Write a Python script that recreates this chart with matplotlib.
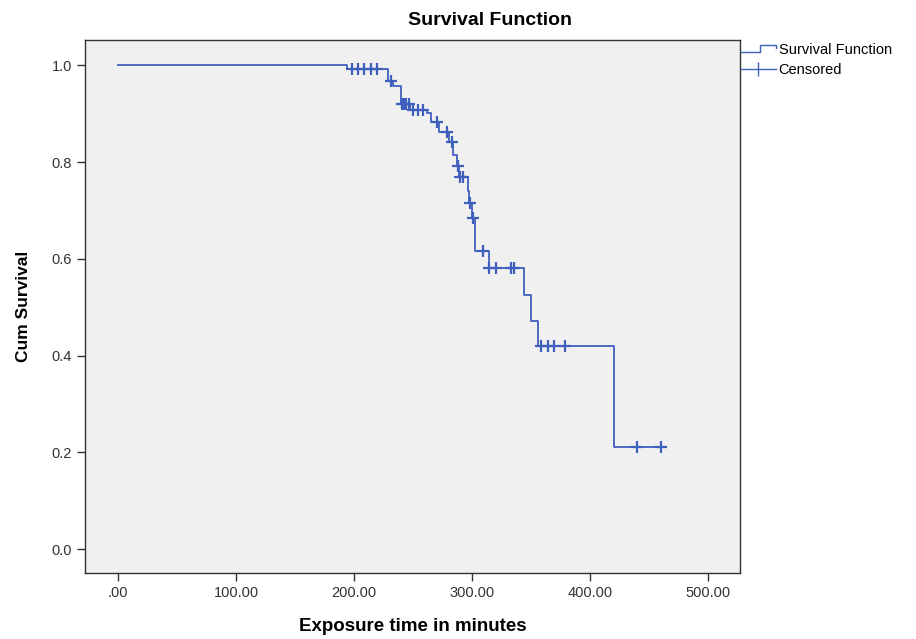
import numpy as np
import matplotlib.pyplot as plt
from matplotlib.lines import Line2D
from matplotlib.legend_handler import HandlerBase

plt.rcParams['font.family'] = ['Liberation Sans', 'DejaVu Sans']

# =============================================================================
# Data
# =============================================================================
# step times (minutes) and survival level after each step
step_times = [0, 194, 229, 233, 240, 247, 262, 265, 272, 280, 284, 287, 289,
              296, 297, 300, 302, 314, 344, 350, 356, 420]
step_surv  = [1.0, 0.992, 0.967, 0.957, 0.921, 0.907, 0.901, 0.882, 0.862,
              0.841, 0.814, 0.793, 0.769, 0.740, 0.715, 0.684, 0.616, 0.581,
              0.525, 0.472, 0.420, 0.210]
end_time   = 460

# censored observations (minutes)
censor_times = [198, 203, 208, 214, 219, 231, 240.5, 242, 244, 246,
                250, 254, 258, 270, 279, 283, 287.5, 290, 292, 298,
                300.5, 309, 314.5, 320, 333, 335, 358, 364, 369, 379,
                440, 460]

X_TICKS = [0, 100, 200, 300, 400, 500]
X_LABS  = ['.00', '100.00', '200.00', '300.00', '400.00', '500.00']
Y_TICKS = [0.0, 0.2, 0.4, 0.6, 0.8, 1.0]

BLUE = '#3f5fbd'

# =============================================================================
# Curve
# =============================================================================
t = np.array(step_times + [end_time], dtype=float)
s = np.array(step_surv + [step_surv[-1]])

ct = np.array(censor_times)
idx = np.searchsorted(np.array(step_times), ct, side='right') - 1
cs = np.array(step_surv)[idx]

fig = plt.figure(figsize=(9.16, 6.39), dpi=100)
ax = fig.add_axes([0.093, 0.103, 0.715, 0.834])
ax.set_facecolor('#f0f0f0')

ax.step(t, s, where='post', color=BLUE, lw=1.3)
ax.plot(ct, cs, ls='none', marker='+', ms=9, mew=1.6, color=BLUE)

ax.set_xlim(-28, 527)
ax.set_ylim(-0.05, 1.052)
ax.set_xticks(X_TICKS)
ax.set_xticklabels(X_LABS)
ax.set_yticks(Y_TICKS)
ax.set_yticklabels([f'{v:.1f}' for v in Y_TICKS])
ax.tick_params(direction='out', length=6, width=1, color='#333333',
               labelsize=10.5, labelcolor='#333333')
for sp in ax.spines.values():
    sp.set_color('#333333')
    sp.set_linewidth(1.0)

ax.set_xlabel('Exposure time in minutes', fontsize=13.5, fontweight='bold',
              labelpad=13)
ax.set_ylabel('Cum Survival', fontsize=12.5, fontweight='bold', labelpad=15)
fig.text(0.535, 0.968, 'Survival Function', fontsize=14, fontweight='bold',
         ha='center', va='center')


# legend glyph shaped like a step
class HandlerStep(HandlerBase):
    def create_artists(self, legend, orig_handle, xd, yd, w, h, fontsize, trans):
        xs = [xd, xd + w * 0.55, xd + w * 0.55, xd + w, xd + w]
        ys = [yd + h * 0.2, yd + h * 0.2, yd + h * 0.85, yd + h * 0.85, yd + h * 0.55]
        ln = Line2D(xs, ys, color=BLUE, lw=1.0, transform=trans)
        return [ln]


h_surv = Line2D([], [], color=BLUE)
h_cens = Line2D([], [], color=BLUE, lw=1.0, marker='|', ms=10, mew=1.0)
fig.legend([h_surv, h_cens], ['Survival Function', 'Censored'],
           handler_map={h_surv: HandlerStep()},
           loc='upper left', bbox_to_anchor=(0.807, 0.935),
           frameon=False, fontsize=10.5, handlelength=2.4, handletextpad=0.2,
           labelspacing=0.4, borderaxespad=0, borderpad=0.1)

fig.savefig('out.png', dpi=100)
